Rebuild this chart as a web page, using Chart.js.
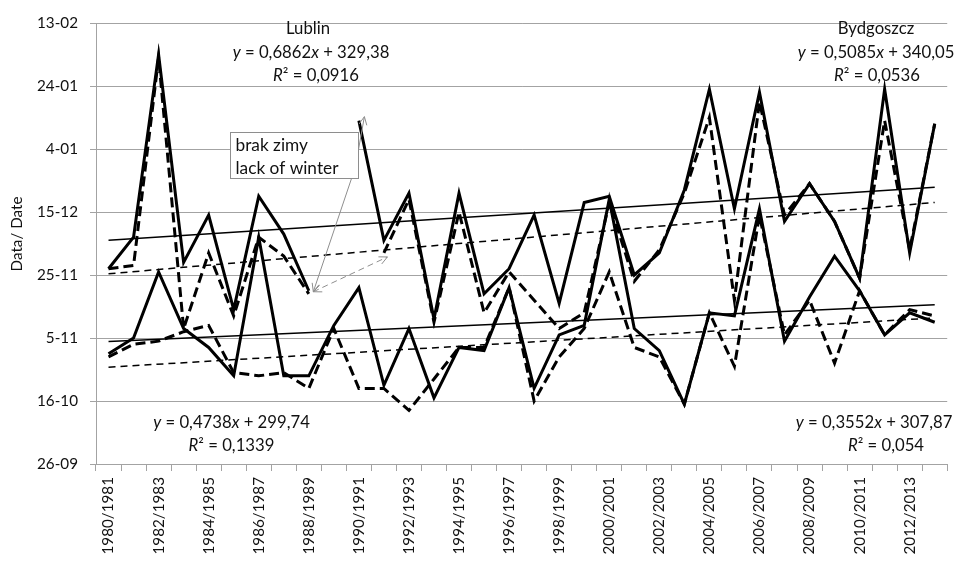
<!DOCTYPE html>
<html>
<head>
<meta charset="utf-8">
<script src="https://cdn.jsdelivr.net/npm/chart.js@4.4.1/dist/chart.umd.min.js"></script>
<style>
  html, body { margin: 0; padding: 0; background: #fff; }
  #wrap { width: 959px; height: 561px; }
</style>
</head>
<body>
<div id="wrap"><canvas id="chart" width="959" height="561"></canvas></div>
<script>
// winter seasons on the x axis
const seasons = ['1980/1981','1981/1982','1982/1983','1983/1984','1984/1985','1985/1986',
  '1986/1987','1987/1988','1988/1989','1989/1990','1990/1991','1991/1992','1992/1993',
  '1993/1994','1994/1995','1995/1996','1996/1997','1997/1998','1998/1999','1999/2000',
  '2000/2001','2001/2002','2002/2003','2003/2004','2004/2005','2005/2006','2006/2007',
  '2007/2008','2008/2009','2009/2010','2010/2011','2011/2012','2012/2013','2013/2014'];

// y axis = day counted from 1 January (269 = 26-09, 409 = 13-02)
const yTickLabels = ['26-09','16-10','5-11','25-11','15-12','4-01','24-01','13-02'];
const yMin = 269, yMax = 409, yStep = 20;

// (day numbers), null = brak zimy / lack of winter
const bydgoszczUpper = [331,341,399,333,348,318,354,342,324,null,378,340,355,315,355,323,331,
  348,320,352,354,329,336,356,388,350,387,346,358,346,328,388,336,377];
const lublinUpper = [331,332,398,312,336,316,341,335,323,null,null,336,353,314,349,317,330,
  321,312,317,352,327,337,355,379,321,384,348,358,346,328,378,337,377];
const bydgoszczLower = [304,309,330,312,306,297,341,297,297,313,325,294,312,290,306,305,325,
  293,310,313,353,312,305,288,317,316,350,308,322,335,324,310,317,314];
const lublinLower = [303,307,308,311,313,298,297,298,293,312,293,293,286,296,306,306,325,
  289,303,312,330,306,303,288,317,300,348,310,321,301,324,310,318,316];

// linear trends as printed on the chart: Bydgoszcz up, Lublin up, Bydgoszcz low, Lublin low
const trendSlopes = [0.5085, 0.6862, 0.3552, 0.4738];
const trendIntercepts = [340.05, 329.38, 307.87, 299.74];
const trendR2 = [0.0536, 0.0916, 0.054, 0.1339];

const boxLines = ['brak zimy', 'lack of winter'];

const FONT = 'Lato';
const TEXT = '#111';
const GRID = '#a3a3a3';
const ARROW = '#8e8e8e';

// pick font sizes so the text widths match the picture
const mctx = document.createElement('canvas').getContext('2d');
function fit(text, w) { mctx.font = '20px ' + FONT; return 20 * w / mctx.measureText(text).width; }
const tickSize = fit('13-02', 41);
const titleSize = fit('Data/ Date', 75);
const annSize = fit('y = 0,5085x + 340,05', 158);
const boxSize = fit('lack of winter', 103);

function trendData(k) {
  const d = seasons.map(() => null);
  const last = seasons.length - 1;
  d[0] = trendIntercepts[k];
  d[last] = trendIntercepts[k] + trendSlopes[k] * last;
  return d;
}

function num(v) { return String(v).replace('.', ','); }
function eqParts(k) {
  return [['y', 1], [' = ' + num(trendSlopes[k]), 0], ['x', 1], [' + ' + num(trendIntercepts[k]), 0]];
}
function r2Parts(k) { return [['R', 1], ['\u00b2 = ' + num(trendR2[k]), 0]]; }

const labelBlocks = [
  { lines: [[['Lublin', 0]], eqParts(1), r2Parts(1)], cx: [308, 311, 316], cy: [28.5, 52.5, 76] },
  { lines: [[['Bydgoszcz', 0]], eqParts(0), r2Parts(0)], cx: [876, 876, 877], cy: [28.5, 52.5, 76] },
  { lines: [eqParts(3), r2Parts(3)], cx: [231.5, 231.5], cy: [422.5, 446] },
  { lines: [eqParts(2), r2Parts(2)], cx: [874, 886], cy: [422.5, 446] }
];

function drawRich(ctx, parts, cx, cy) {
  let w = 0;
  parts.forEach(p => { ctx.font = (p[1] ? 'italic ' : '') + annSize + 'px ' + FONT; w += ctx.measureText(p[0]).width; });
  let x = cx - w / 2;
  ctx.textAlign = 'left';
  ctx.textBaseline = 'middle';
  parts.forEach(p => {
    ctx.font = (p[1] ? 'italic ' : '') + annSize + 'px ' + FONT;
    ctx.fillText(p[0], x, cy);
    x += ctx.measureText(p[0]).width;
  });
}

function arrowHead(ctx, fx, fy, tx, ty) {
  const a = Math.atan2(ty - fy, tx - fx), L = 9, s = 0.45;
  ctx.beginPath();
  ctx.moveTo(tx - L * Math.cos(a - s), ty - L * Math.sin(a - s));
  ctx.lineTo(tx, ty);
  ctx.lineTo(tx - L * Math.cos(a + s), ty - L * Math.sin(a + s));
  ctx.stroke();
}

const annotations = {
  id: 'annotations',
  afterDraw(chart) {
    const ctx = chart.ctx, xs = chart.scales.x, ys = chart.scales.y;
    ctx.save();
    ctx.fillStyle = TEXT;

    // axis title
    ctx.save();
    ctx.translate(17, 234);
    ctx.rotate(-Math.PI / 2);
    ctx.font = titleSize + 'px ' + FONT;
    ctx.textAlign = 'center';
    ctx.textBaseline = 'middle';
    ctx.fillText('Data/ Date', 0, 0);
    ctx.restore();

    // trend equations
    labelBlocks.forEach(b => b.lines.forEach((ln, k) => drawRich(ctx, ln, b.cx[k], b.cy[k])));

    // "lack of winter" box
    const bx = 230.5, by = 132.5, bw = 128, bh = 46;
    ctx.fillStyle = '#fff';
    ctx.fillRect(bx, by, bw, bh);
    ctx.strokeStyle = ARROW;
    ctx.lineWidth = 1;
    ctx.strokeRect(bx, by, bw, bh);
    ctx.fillStyle = TEXT;
    ctx.font = boxSize + 'px ' + FONT;
    ctx.textAlign = 'left';
    ctx.textBaseline = 'middle';
    ctx.fillText(boxLines[0], bx + 5, by + 12.5);
    ctx.fillText(boxLines[1], bx + 5, by + 35.5);

    // arrows pointing to the gaps
    const p8 = [xs.getPixelForValue(8) + 4.5, ys.getPixelForValue(bydgoszczUpper[8]) + 1];
    const p10 = [xs.getPixelForValue(10) + 5.5, ys.getPixelForValue(bydgoszczUpper[10]) - 4];
    const p11 = [xs.getPixelForValue(11) + 3.5, ys.getPixelForValue(lublinUpper[11]) + 4];
    ctx.strokeStyle = ARROW;
    ctx.lineWidth = 1;
    const s1 = [bx + bw - 7, by + bh];
    ctx.beginPath(); ctx.moveTo(s1[0], s1[1]); ctx.lineTo(p8[0], p8[1]); ctx.stroke();
    arrowHead(ctx, s1[0], s1[1], p8[0], p8[1]);
    const s2 = [bx + bw, by + 17];
    ctx.beginPath(); ctx.moveTo(s2[0], s2[1]); ctx.lineTo(p10[0], p10[1]); ctx.stroke();
    arrowHead(ctx, s2[0], s2[1], p10[0], p10[1]);
    ctx.setLineDash([6, 4]);
    ctx.beginPath(); ctx.moveTo(p8[0], p8[1]); ctx.lineTo(p11[0], p11[1]); ctx.stroke();
    ctx.setLineDash([]);
    arrowHead(ctx, p11[0], p11[1], p8[0], p8[1]);
    arrowHead(ctx, p8[0], p8[1], p11[0], p11[1]);
    ctx.restore();
  }
};

function series(data, dash, width) {
  return { data: data, borderColor: '#000', borderWidth: width, borderDash: dash,
    pointRadius: 0, fill: false, tension: 0, spanGaps: false };
}
function trend(k, dash) {
  return { data: trendData(k), borderColor: '#000', borderWidth: 1.5, borderDash: dash,
    pointRadius: 0, fill: false, tension: 0, spanGaps: true };
}

new Chart(document.getElementById('chart'), {
  type: 'line',
  data: {
    labels: seasons,
    datasets: [
      series(bydgoszczUpper, [], 3),
      series(lublinUpper, [10, 5], 3),
      series(bydgoszczLower, [], 3),
      series(lublinLower, [10, 5], 3),
      trend(0, []),
      trend(1, [7, 5]),
      trend(2, []),
      trend(3, [7, 5])
    ]
  },
  options: {
    responsive: false,
    animation: false,
    devicePixelRatio: 1,
    layout: { padding: { top: 23, right: 1, left: 0, bottom: 0 } },
    plugins: { legend: { display: false }, tooltip: { enabled: false } },
    scales: {
      x: {
        type: 'category',
        offset: true,
        grid: { offset: true, drawOnChartArea: false, drawTicks: true, tickLength: 7, tickColor: GRID },
        border: { color: GRID, width: 1 },
        ticks: {
          autoSkip: false, minRotation: 90, maxRotation: 90, padding: 6, color: TEXT,
          font: { family: FONT, size: tickSize },
          callback: (v, i) => (i % 2 === 0 ? seasons[i] : '')
        },
        afterFit: s => { s.height = 97; }
      },
      y: {
        min: yMin, max: yMax,
        grid: { color: GRID, tickLength: 6, drawTicks: true },
        border: { color: GRID, width: 1 },
        ticks: {
          stepSize: yStep, padding: 12, color: TEXT,
          font: { family: FONT, size: tickSize },
          callback: v => yTickLabels[Math.round((v - yMin) / yStep)]
        },
        afterFit: s => { s.width = 96; }
      }
    }
  },
  plugins: [annotations]
});
</script>
</body>
</html>
